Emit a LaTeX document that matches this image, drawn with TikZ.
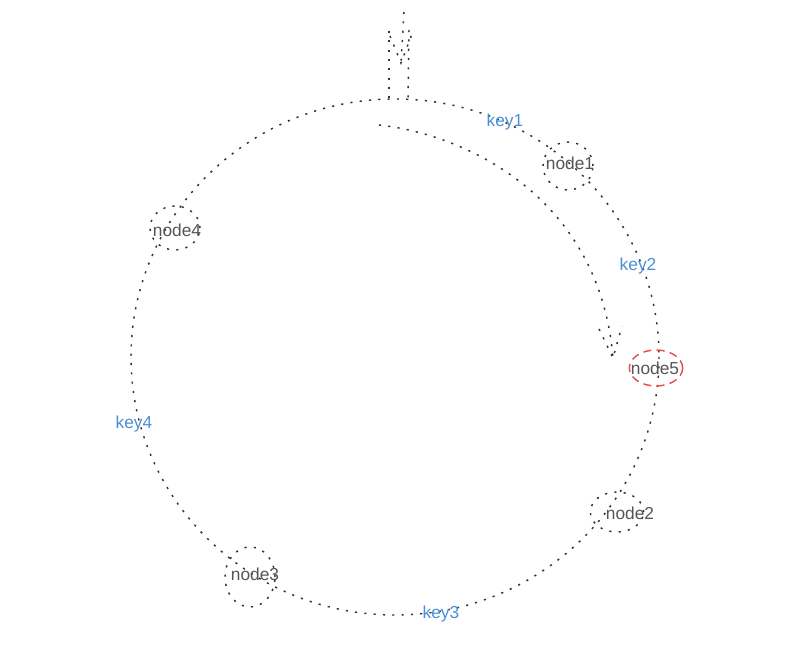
\documentclass[tikz,border=0pt]{standalone}
\usepackage{fontspec}
\setmainfont{Liberation Sans}
\usetikzlibrary{shapes.geometric}
\definecolor{linegray}{RGB}{51,51,51}
\definecolor{textgray}{RGB}{85,85,85}
\definecolor{keyblue}{RGB}{74,144,217}
\definecolor{hashred}{RGB}{226,80,80}
\tikzset{
  dotline/.style={color=linegray, line width=1.1pt, dash pattern=on 1.6pt off 5.4pt},
  ringnode/.style={ellipse, draw=linegray, line width=1.1pt, dash pattern=on 1.6pt off 5.4pt, inner sep=0pt},
  newnode/.style={ellipse, draw=hashred, line width=1.1pt, dash pattern=on 6pt off 4pt, inner sep=0pt},
  nodetext/.style={text=textgray, inner sep=0.75pt, font=\fontsize{13}{15}\selectfont},
  keytext/.style={text=keyblue, inner sep=0.75pt, font=\fontsize{13}{15}\selectfont}
}
\begin{document}
\begin{tikzpicture}[x=0.75pt,y=0.75pt,yscale=-1,xscale=1]
    \path[use as bounding box] (0,0) rectangle (794,648);

    %Shape: Circle (hash ring)
    \draw [dotline] (395,357) ellipse [x radius=264, y radius=258];

    %Shape: node rings
    \node [ringnode, minimum width=37.5pt, minimum height=36pt] (n1) at (568,166) {};
    \node [ringnode, minimum width=40pt, minimum height=30pt] (n2) at (617,512) {};
    \node [ringnode, minimum width=37.5pt, minimum height=45pt] (n3) at (250,577) {};
    \node [ringnode, minimum width=37.5pt, minimum height=33pt] (n4) at (175,228) {};
    \node [newnode, minimum width=40pt, minimum height=27pt] (n5) at (656,368) {};

    % Text Node
    \node [nodetext] (t1) at (570,163) {node1};
    \node [nodetext] (t2) at (630,513) {node2};
    \node [nodetext] (t3) at (255,574) {node3};
    \node [nodetext] (t4) at (177,230) {node4};
    \node [nodetext] (t5) at (655,368) {node5};

    % Text Node
    \node [keytext] (k1) at (505,122) {key1};
    \node [keytext] (k2) at (638,266) {key2};
    \node [keytext] (k3) at (441,614) {key3};
    \node [keytext] (k4) at (134,424) {key4};

    %Straight Lines (incoming request)
    \coordinate (inTop) at (404,12);
    \coordinate (inTip) at (401,63);
    \draw [dotline] (inTop) -- (inTip);
    \draw [dotline] (390,36) -- (inTip) -- (412,34);
    \draw [dotline] (389,31) -- (389,100);
    \draw [dotline] (409,30) -- (408,98);

    %Curve Lines (lookup clockwise)
    \coordinate (walkStart) at (379,125);
    \coordinate (walkTip) at (613,358);
    \draw [dotline] (walkStart) .. controls (470,135) and (600,200) .. (walkTip);
    \draw [dotline] (599,329) -- (walkTip) -- (622,326);

\end{tikzpicture}
\end{document}
